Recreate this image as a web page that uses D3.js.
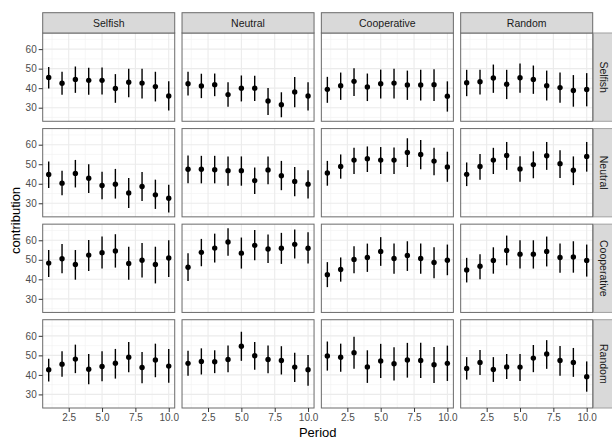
<!DOCTYPE html>
<html>
<head>
<meta charset="utf-8">
<script src="https://cdn.jsdelivr.net/npm/d3@7"></script>
<style>
  body { margin: 0; background: #fff; }
  svg { display: block; font-family: "Liberation Sans", Arial, sans-serif; }
</style>
</head>
<body>
<div id="chart"></div>
<script>
// facet labels (columns on top, rows on the right)
var colLabels = ['Selfish', 'Neutral', 'Cooperative', 'Random'];
var rowLabels = ['Selfish', 'Neutral', 'Cooperative', 'Random'];
var periods = [1, 2, 3, 4, 5, 6, 7, 8, 9, 10];
var xTicks = [2.5, 5.0, 7.5, 10.0];
var yTicks = [30, 40, 50, 60];

// one array per row facet, one sub-array per column facet
var meanSelfish = [
  [45.5, 42.5, 44.5, 44.0, 44.0, 39.8, 43.0, 42.6, 40.8, 36.0],
  [42.3, 41.1, 41.8, 36.7, 40.0, 40.0, 33.4, 31.5, 38.1, 36.0],
  [39.4, 41.3, 43.5, 40.6, 42.3, 42.6, 41.6, 41.6, 41.8, 35.9],
  [42.8, 43.3, 45.2, 42.0, 45.3, 44.5, 41.3, 40.3, 38.8, 39.3]
];
var lowSelfish = [
  [39.8, 36.6, 37.6, 36.6, 36.7, 32.5, 35.4, 34.7, 33.2, 28.5],
  [36.2, 34.9, 35.9, 30.5, 33.2, 33.4, 26.3, 25.1, 30.2, 28.5],
  [32.5, 34.0, 36.0, 33.4, 34.7, 34.7, 34.0, 33.7, 33.4, 28.0],
  [35.9, 36.7, 37.6, 34.4, 37.6, 37.1, 33.7, 32.5, 30.5, 30.7]
];
var highSelfish = [
  [50.9, 48.4, 51.1, 50.4, 50.6, 47.2, 50.0, 50.0, 48.4, 43.6],
  [48.4, 47.4, 47.5, 43.0, 46.5, 46.3, 40.1, 37.9, 45.7, 43.0],
  [45.8, 48.0, 50.2, 47.5, 49.5, 50.0, 49.0, 49.4, 49.7, 43.5],
  [49.4, 49.4, 52.1, 49.4, 52.6, 51.6, 49.0, 48.0, 46.7, 47.7]
];

var meanNeutral = [
  [44.7, 40.3, 45.3, 42.8, 39.1, 39.8, 35.3, 38.6, 34.3, 32.6],
  [47.4, 47.4, 47.2, 46.7, 46.7, 41.6, 47.1, 44.1, 41.2, 39.8],
  [45.5, 48.8, 52.1, 52.8, 52.1, 52.1, 56.0, 55.0, 51.6, 48.6],
  [44.8, 48.8, 52.1, 54.5, 47.6, 49.8, 54.3, 50.3, 46.9, 54.0]
];
var lowNeutral = [
  [37.8, 34.1, 38.1, 35.2, 32.1, 32.4, 27.6, 31.2, 27.1, 25.3],
  [40.3, 40.2, 40.2, 39.0, 39.0, 34.7, 39.7, 36.7, 33.6, 32.4],
  [39.0, 42.6, 45.0, 46.0, 45.0, 45.0, 48.6, 47.4, 44.3, 41.0],
  [38.8, 42.1, 45.0, 47.1, 41.0, 42.8, 47.1, 42.9, 39.3, 46.2]
];
var highNeutral = [
  [51.4, 46.7, 52.2, 50.0, 46.2, 47.6, 42.9, 46.0, 42.1, 39.5],
  [54.5, 54.3, 54.3, 54.0, 54.0, 48.3, 54.0, 51.7, 48.6, 46.9],
  [51.7, 55.0, 58.4, 59.1, 58.8, 58.6, 63.3, 62.4, 58.4, 56.4],
  [50.9, 55.2, 58.4, 61.4, 54.1, 56.6, 61.4, 57.2, 54.0, 61.4]
];

var meanCooperative = [
  [48.3, 50.5, 47.6, 52.4, 53.6, 54.5, 48.1, 49.8, 47.6, 50.9],
  [46.2, 53.8, 56.0, 59.1, 53.4, 57.4, 55.5, 55.9, 57.9, 55.9],
  [42.4, 45.0, 50.2, 51.2, 54.3, 50.7, 52.2, 50.7, 48.6, 49.8],
  [44.8, 46.7, 49.7, 54.8, 52.9, 52.9, 54.3, 51.2, 51.4, 49.7]
];
var lowCooperative = [
  [41.2, 43.1, 39.8, 44.3, 45.5, 46.0, 39.8, 40.9, 37.9, 41.2],
  [39.1, 46.7, 48.6, 52.1, 45.5, 49.8, 48.3, 47.9, 50.7, 48.1],
  [36.0, 38.8, 43.1, 43.8, 46.9, 42.8, 44.3, 42.8, 40.5, 42.1],
  [38.4, 40.0, 42.9, 47.2, 45.5, 45.5, 46.6, 43.4, 43.4, 41.4]
];
var highCooperative = [
  [55.0, 58.1, 55.0, 60.2, 61.9, 63.1, 56.7, 58.6, 56.7, 60.0],
  [53.3, 60.7, 63.4, 66.2, 61.4, 65.2, 62.9, 63.8, 65.5, 64.1],
  [48.8, 51.2, 56.9, 58.3, 61.6, 58.4, 59.5, 58.4, 56.4, 57.8],
  [51.0, 52.9, 56.4, 62.4, 60.0, 60.0, 61.9, 58.4, 59.5, 57.8]
];

var meanRandom = [
  [42.6, 45.5, 48.1, 42.9, 44.3, 46.0, 49.1, 43.8, 47.6, 44.5],
  [45.9, 46.9, 46.7, 47.9, 54.7, 49.8, 47.9, 47.4, 44.0, 42.6],
  [49.7, 49.0, 51.4, 44.1, 47.1, 45.7, 47.6, 47.4, 45.2, 45.9],
  [43.3, 46.4, 42.8, 44.1, 44.0, 48.6, 50.7, 47.4, 46.4, 39.1]
];
var lowRandom = [
  [36.6, 39.1, 40.9, 35.2, 36.7, 38.1, 41.4, 35.7, 38.8, 36.0],
  [39.5, 40.2, 40.9, 41.4, 47.2, 42.6, 40.9, 40.2, 36.4, 34.5],
  [42.2, 41.6, 43.1, 35.9, 38.4, 37.1, 38.6, 38.4, 35.9, 36.9],
  [37.6, 40.0, 36.4, 37.9, 36.9, 41.4, 43.1, 39.5, 39.0, 31.4]
];
var highRandom = [
  [48.3, 52.1, 55.5, 50.7, 52.1, 53.3, 56.9, 51.7, 56.0, 53.3],
  [52.4, 53.6, 52.6, 55.0, 62.1, 56.9, 55.0, 54.7, 51.4, 50.2],
  [57.1, 56.0, 59.5, 52.6, 55.9, 54.1, 56.4, 56.4, 54.3, 55.0],
  [49.1, 52.8, 49.1, 50.7, 50.7, 55.3, 57.8, 54.8, 53.8, 46.9]
];

var means = [meanSelfish, meanNeutral, meanCooperative, meanRandom];
var lows = [lowSelfish, lowNeutral, lowCooperative, lowRandom];
var highs = [highSelfish, highNeutral, highCooperative, highRandom];

// 画布尺寸与面板布局
var W = 612, H = 439;
var plotLeft = 42.7, plotRight = 592.7, plotTop = 33, plotBottom = 408;
var gap = 7.3, stripH = 20.3, stripW = 20.3;
var pw = (plotRight - plotLeft - 3 * gap) / 4;
var ph = (plotBottom - plotTop - 3 * gap) / 4;

var svg = d3.select('#chart').append('svg').attr('width', W).attr('height', H);

// 与ggplot一样的5%扩展
var allLow = d3.min(lows, function (r) { return d3.min(r, function (c) { return d3.min(c); }); });
var allHigh = d3.max(highs, function (r) { return d3.max(r, function (c) { return d3.max(c); }); });
var yPad = (allHigh - allLow) * 0.05;
var xPad = 9 * 0.05;

var x = d3.scaleLinear().domain([1 - xPad, 10 + xPad]).range([0, pw]);
var y = d3.scaleLinear().domain([allLow - yPad, allHigh + yPad]).range([ph, 0]);

var xMinor = [1.25, 3.75, 6.25, 8.75];
var yMinor = [25, 35, 45, 55, 65];

rowLabels.forEach(function (rowName, ri) {
    colLabels.forEach(function (colName, ci) {
        var g = svg.append('g')
            .attr('transform', 'translate(' + (plotLeft + ci * (pw + gap)) + ',' + (plotTop + ri * (ph + gap)) + ')');

        // 网格
        g.selectAll('.ymin').data(yMinor.filter(function (v) { return y(v) > 0 && y(v) < ph; }))
            .enter().append('line')
            .attr('x1', 0).attr('x2', pw)
            .attr('y1', function (d) { return y(d); }).attr('y2', function (d) { return y(d); })
            .attr('stroke', '#F3F3F3').attr('stroke-width', 0.7);
        g.selectAll('.xmin').data(xMinor)
            .enter().append('line')
            .attr('y1', 0).attr('y2', ph)
            .attr('x1', function (d) { return x(d); }).attr('x2', function (d) { return x(d); })
            .attr('stroke', '#F3F3F3').attr('stroke-width', 0.7);
        g.selectAll('.ymaj').data(yTicks)
            .enter().append('line')
            .attr('x1', 0).attr('x2', pw)
            .attr('y1', function (d) { return y(d); }).attr('y2', function (d) { return y(d); })
            .attr('stroke', '#EBEBEB').attr('stroke-width', 1.1);
        g.selectAll('.xmaj').data(xTicks)
            .enter().append('line')
            .attr('y1', 0).attr('y2', ph)
            .attr('x1', function (d) { return x(d); }).attr('x2', function (d) { return x(d); })
            .attr('stroke', '#EBEBEB').attr('stroke-width', 1.1);

        // 误差线与均值点
        var pts = periods.map(function (p, i) {
            return { p: p, m: means[ri][ci][i], lo: lows[ri][ci][i], hi: highs[ri][ci][i] };
        });
        g.selectAll('.bar').data(pts).enter().append('line')
            .attr('x1', function (d) { return x(d.p); }).attr('x2', function (d) { return x(d.p); })
            .attr('y1', function (d) { return y(d.lo); }).attr('y2', function (d) { return y(d.hi); })
            .attr('stroke', '#000').attr('stroke-width', 1.4);
        g.selectAll('.pt').data(pts).enter().append('circle')
            .attr('cx', function (d) { return x(d.p); })
            .attr('cy', function (d) { return y(d.m); })
            .attr('r', 2.7).attr('fill', '#000');

        // 面板边框
        g.append('rect').attr('width', pw).attr('height', ph)
            .attr('fill', 'none').attr('stroke', '#6a6a6a').attr('stroke-width', 1);

        // 顶部标签
        if (ri === 0) {
            g.append('rect').attr('x', 0).attr('y', -stripH).attr('width', pw).attr('height', stripH)
                .attr('fill', '#D9D9D9').attr('stroke', '#6a6a6a').attr('stroke-width', 1);
            g.append('text').attr('x', pw / 2).attr('y', -stripH / 2).attr('dy', '0.35em')
                .attr('text-anchor', 'middle').attr('font-size', 10.5).attr('fill', '#1A1A1A')
                .text(colName);
        }
        // 右侧标签
        if (ci === 3) {
            g.append('rect').attr('x', pw + 0.8).attr('y', 0).attr('width', stripW).attr('height', ph)
                .attr('fill', '#D9D9D9').attr('stroke', '#A0A0A0').attr('stroke-width', 1);
            g.append('text')
                .attr('transform', 'translate(' + (pw + 0.8 + stripW / 2) + ',' + (ph / 2) + ') rotate(90)')
                .attr('dy', '0.35em').attr('text-anchor', 'middle')
                .attr('font-size', 10.5).attr('fill', '#1A1A1A')
                .text(rowName);
        }
        // 纵轴
        if (ci === 0) {
            var ya = g.append('g').call(d3.axisLeft(y).tickValues(yTicks).tickSize(4).tickPadding(2).tickFormat(d3.format('d')));
            ya.select('.domain').remove();
            ya.selectAll('line').attr('stroke', '#333');
            ya.selectAll('text').attr('font-size', 10).attr('fill', '#4D4D4D');
            ya.attr('font-family', null);
        }
        // 横轴
        if (ri === 3) {
            var xa = g.append('g').attr('transform', 'translate(0,' + ph + ')')
                .call(d3.axisBottom(x).tickValues(xTicks).tickSize(4).tickPadding(2).tickFormat(d3.format('.1f')));
            xa.select('.domain').remove();
            xa.selectAll('line').attr('stroke', '#333');
            xa.selectAll('text').attr('font-size', 10).attr('fill', '#4D4D4D');
            xa.attr('font-family', null);
        }
    });
});

// 轴标题
svg.append('text').attr('x', (plotLeft + plotRight) / 2).attr('y', 437)
    .attr('text-anchor', 'middle').attr('font-size', 13).attr('fill', '#000').text('Period');
svg.append('text').attr('transform', 'translate(15,' + ((plotTop + plotBottom) / 2) + ') rotate(-90)')
    .attr('dy', '0.35em').attr('text-anchor', 'middle').attr('font-size', 13).attr('fill', '#000').text('contribution');
</script>
</body>
</html>
